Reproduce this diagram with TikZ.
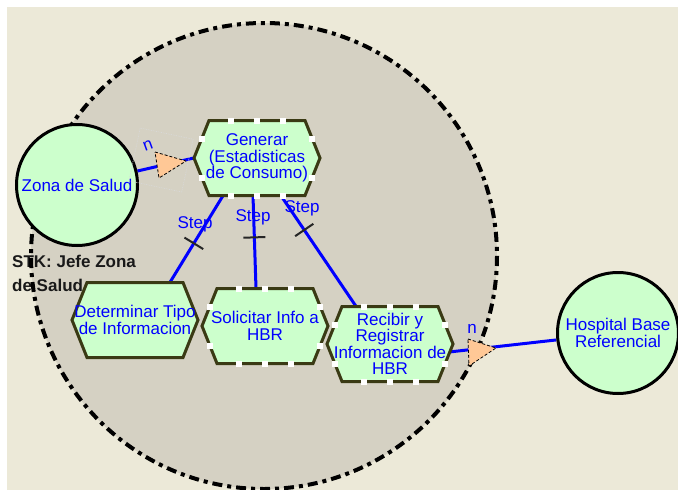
\documentclass[tikz,border=0pt]{standalone}
\usepackage{fontspec}
\setmainfont{Liberation Sans}
\usetikzlibrary{calc}

\definecolor{paper}{HTML}{ECE9D8}
\definecolor{zonefill}{HTML}{D5D1C3}
\definecolor{mint}{HTML}{CCFFCC}
\definecolor{olive}{HTML}{3A3A14}
\definecolor{peach}{HTML}{FFC896}
\definecolor{linkblue}{HTML}{0000FF}

\pgfdeclarelayer{back}
\pgfdeclarelayer{links}
\pgfsetlayers{back,links,main}

\tikzset{
  lbl/.style={text=linkblue, font=\fontsize{17}{16.5}\selectfont, align=center, inner sep=0pt},
  hexbox/.style={lbl, minimum width=126pt, minimum height=75pt},
  hexline/.style={draw=olive, fill=mint, line width=3pt, line join=miter},
  circ/.style={lbl, circle, draw=black, fill=mint, line width=3pt, minimum size=121pt},
  conn/.style={draw=linkblue, line width=3pt},
  tickmark/.style={rectangle, fill=black!85, draw=none, inner sep=0pt, minimum width=2pt, minimum height=22pt},
  tri/.style={fill=peach, draw=black, densely dashed, line width=0.8pt, line join=round},
  stklabel/.style={text=black!90, font=\fontsize{17}{24}\selectfont\bfseries, align=left, inner sep=0pt},
  boundary/.style={draw=black, line width=4pt, dash pattern=on 10pt off 5pt on 4pt off 5pt},
  handlebox/.style={draw=gray!30, densely dotted, line width=0.7pt},
}

% hexagonal activity box: filled outline first, text node on top
\newcommand\actbox[3]{%
  \filldraw[hexline] ($(#2)+(-63,0)$) -- ($(#2)+(-48,-37.5)$) -- ($(#2)+(48,-37.5)$)
    -- ($(#2)+(63,0)$) -- ($(#2)+(48,37.5)$) -- ($(#2)+(-48,37.5)$) -- cycle;
  \node[hexbox] (#1) at (#2) {#3};}

% small white selection handles along a hexagon outline
\newcommand\grips[1]{%
  \foreach \dx/\dy in {-26/-37.5, 0/-37.5, 26/-37.5, -26/37.5, 0/37.5, 26/37.5,
                       -55.4/-19, 55.4/-19, -55/20, 55/20}
    \fill[white] ($(#1)+(\dx,\dy)$) +(-3,-3) rectangle +(3,3);}

\begin{document}
\begin{tikzpicture}[x=1pt, y=-1pt]
\useasboundingbox (0,0) rectangle (678,490);

\begin{pgfonlayer}{back}
  \fill[white] (0,0) rectangle (678,490);
  \fill[paper] (7,7) rectangle (678,490);
  \fill[zonefill] (264,256) circle[radius=233];
  \node[stklabel, anchor=north west] (stk) at (12,255) {STK: Jefe Zona\\de Salud};
  \draw[boundary] (264,256) circle[radius=233];
\end{pgfonlayer}

% activities
\actbox{gen}{257,158}{Generar\\(Estadisticas\\de Consumo)}
\actbox{det}{135,320}{Determinar Tipo\\de Informacion}
\actbox{sol}{265,326}{Solicitar Info a\\HBR}
\actbox{rec}{390,344}{Recibir y\\Registrar\\Informacion de\\HBR}
\grips{gen}
\grips{sol}
\grips{rec}

% stakeholders
\node[circ] (zona) at (77,185) {Zona de Salud};
\node[circ] (hosp) at (618,333) {Hospital Base\\Referencial};

% links
\begin{pgfonlayer}{links}
  \draw[conn] (zona) -- (gen.west);
  \draw[conn] ($(gen.south)+(-34,0)$) -- node[pos=.55, sloped, tickmark] {} ($(det.north)+(35,0)$);
  \draw[conn] ($(gen.south)+(-4,0)$) -- node[pos=.45, sloped, tickmark] {} ($(sol.north)+(-9,0)$);
  \draw[conn] ($(gen.south)+(24,0)$) -- node[pos=.31, sloped, tickmark] {} ($(rec.north)+(-34,0)$);
  \draw[conn] ($(rec.east)+(-4,8)$) -- (hosp);
\end{pgfonlayer}

% multiplicity markers
\begin{scope}[shift={(161,160)}, rotate=-12]
  \draw[handlebox] (-27,-27) rectangle (27,27);
\end{scope}
\filldraw[tri] (155,152) -- (186,161) -- (159,178) -- cycle;
\filldraw[tri] (468,339) -- (496,348) -- (469,366) -- cycle;
\node[lbl, rotate=20] (n1) at (148,146) {n};
\node[lbl] (n2) at (472,329) {n};

% step labels
\node[lbl] (s1) at (195,224) {Step};
\node[lbl] (s2) at (253,217) {Step};
\node[lbl] (s3) at (302,208) {Step};
\end{tikzpicture}
\end{document}
